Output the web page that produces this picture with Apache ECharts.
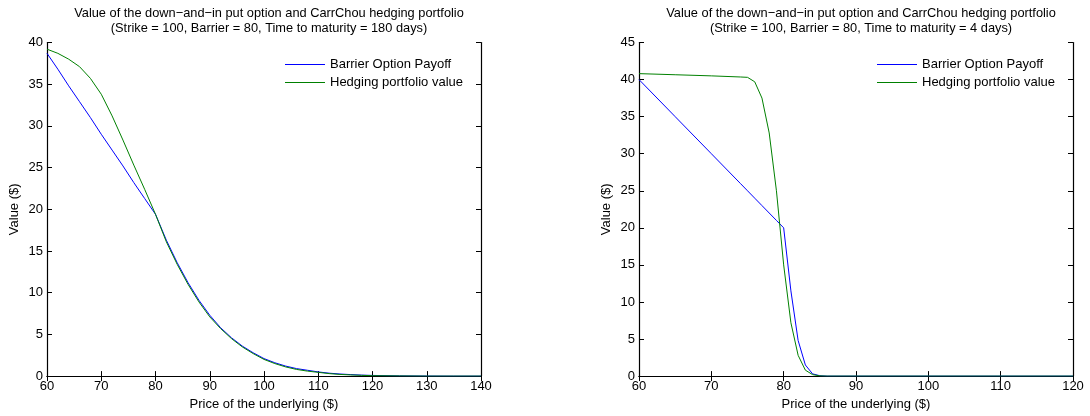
<!DOCTYPE html>
<html>
<head>
<meta charset="utf-8">
<script src="https://cdn.jsdelivr.net/npm/echarts@6/dist/echarts.min.js"></script>
<style>html,body{margin:0;padding:0;background:#fff}#c{width:1090px;height:416px}</style>
</head>
<body>
<div id="c"></div>
<script>
// ---- Data ----
var titleText = 'Value of the down\u2212and\u2212in put option and CarrChou hedging portfolio';
var leftSubtitle = '(Strike = 100, Barrier = 80, Time to maturity = 180 days)';
var rightSubtitle = '(Strike = 100, Barrier = 80, Time to maturity = 4 days)';
var xName = 'Price of the underlying ($)';
var yName = 'Value ($)';
var seriesNames = ['Barrier Option Payoff', 'Hedging portfolio value'];

// Left panel: 180 days
var leftPrices = [60,62,64,66,68,70,72,74,76,78,80,82,84,86,88,90,92,94,96,98,100,102,104,106,108,110,112,114,116,118,120,125,130,135,140];
var leftPayoff = [38.7,36.8,34.8,32.9,31.0,29.0,27.1,25.2,23.2,21.3,19.4,16.3,13.6,11.2,9.1,7.3,5.8,4.6,3.6,2.8,2.1,1.6,1.2,0.9,0.7,0.5,0.35,0.25,0.18,0.12,0.08,0.03,0.01,0.0,0.0];
var leftHedge  = [39.2,38.7,38.0,37.1,35.7,33.8,31.2,28.3,25.3,22.4,19.4,16.1,13.4,11.0,8.9,7.1,5.7,4.5,3.5,2.7,2.0,1.5,1.1,0.8,0.6,0.45,0.3,0.2,0.14,0.09,0.05,0.02,0.0,0.0,0.0];

// Right panel: 4 days
var rightPrices = [60,65,70,74,75,76,77,78,79,80,81,82,83,84,85,86,90,100,110,120];
var rightPayoff = [40.0,35.0,30.0,26.0,25.0,24.0,23.0,22.0,21.0,20.0,11.5,4.8,1.5,0.3,0.05,0,0,0,0,0];
var rightHedge  = [40.8,40.65,40.5,40.35,40.3,39.7,37.5,32.8,25.0,15.0,7.2,2.8,0.8,0.2,0.03,0,0,0,0,0];

var leftXTicks = {min:60, max:140, interval:10};
var leftYTicks = {min:0, max:40, interval:5};
var rightXTicks = {min:60, max:120, interval:10};
var rightYTicks = {min:0, max:45, interval:5};

function pairs(xs, ys){ return xs.map(function(x,i){ return [x, ys[i]]; }); }

var FONT = 'Liberation Sans, Arial, Helvetica, sans-serif';
var FS = 13;
var axisLine = {show:true, lineStyle:{color:'#000', width:1.2}};
var tick = {show:true, inside:true, length:5, lineStyle:{color:'#000'}};

function xAxes(g, t){
  return [
    {type:'value', gridIndex:g, position:'bottom', min:t.min, max:t.max, interval:t.interval,
     axisLine:axisLine, axisTick:tick, splitLine:{show:false},
     axisLabel:{color:'#000', fontSize:FS, fontFamily:FONT, margin:4},
     name:xName, nameLocation:'middle', nameGap:19,
     nameTextStyle:{color:'#000', fontSize:FS, fontFamily:FONT}},
    {type:'value', gridIndex:g, position:'top', min:t.min, max:t.max, interval:t.interval,
     axisLine:axisLine, axisTick:tick, splitLine:{show:false}, axisLabel:{show:false}}
  ];
}
function yAxes(g, t){
  return [
    {type:'value', gridIndex:g, position:'left', min:t.min, max:t.max, interval:t.interval,
     axisLine:axisLine, axisTick:tick, splitLine:{show:false},
     axisLabel:{color:'#000', fontSize:FS, fontFamily:FONT, margin:4},
     name:yName, nameLocation:'middle', nameGap:26, nameRotate:90,
     nameTextStyle:{color:'#000', fontSize:FS, fontFamily:FONT}},
    {type:'value', gridIndex:g, position:'right', min:t.min, max:t.max, interval:t.interval,
     axisLine:axisLine, axisTick:tick, splitLine:{show:false}, axisLabel:{show:false}}
  ];
}
function line(name, xi, yi, data, color){
  return {type:'line', name:name, xAxisIndex:xi, yAxisIndex:yi, data:data,
          symbol:'none', showSymbol:false, animation:false,
          lineStyle:{color:color, width:1}, itemStyle:{color:color}};
}
function legend(left){
  return {left:left, top:52, orient:'vertical', itemWidth:40, itemHeight:15, itemGap:3,
          icon:'path://M0,7 L40,7 L40,7.9 L0,7.9 Z',
          textStyle:{color:'#000', fontSize:FS, fontFamily:FONT, lineHeight:15},
          data:seriesNames};
}
function title(left, sub){
  return {text:titleText + '\n' + sub, left:left, top:1.5, textAlign:'center',
          textStyle:{color:'#000', fontSize:12.8, fontWeight:'normal', fontFamily:FONT, lineHeight:14.5}};
}

var chart = echarts.init(document.getElementById('c'), null, {renderer:'canvas'});
chart.setOption({
  backgroundColor:'#fff',
  animation:false,
  title:[title(264, leftSubtitle), title(856, rightSubtitle)],
  legend:[legend(280), legend(872)],
  grid:[
    {left:47, top:42.5, width:434, height:335},
    {left:639, top:42.5, width:434, height:335}
  ],
  xAxis: xAxes(0, leftXTicks).concat(xAxes(1, rightXTicks)),
  yAxis: yAxes(0, leftYTicks).concat(yAxes(1, rightYTicks)),
  series:[
    line(seriesNames[0], 0, 0, pairs(leftPrices, leftPayoff), '#0000ff'),
    line(seriesNames[1], 0, 0, pairs(leftPrices, leftHedge), '#008000'),
    line(seriesNames[0], 2, 2, pairs(rightPrices, rightPayoff), '#0000ff'),
    line(seriesNames[1], 2, 2, pairs(rightPrices, rightHedge), '#008000')
  ]
});
</script>
</body>
</html>
